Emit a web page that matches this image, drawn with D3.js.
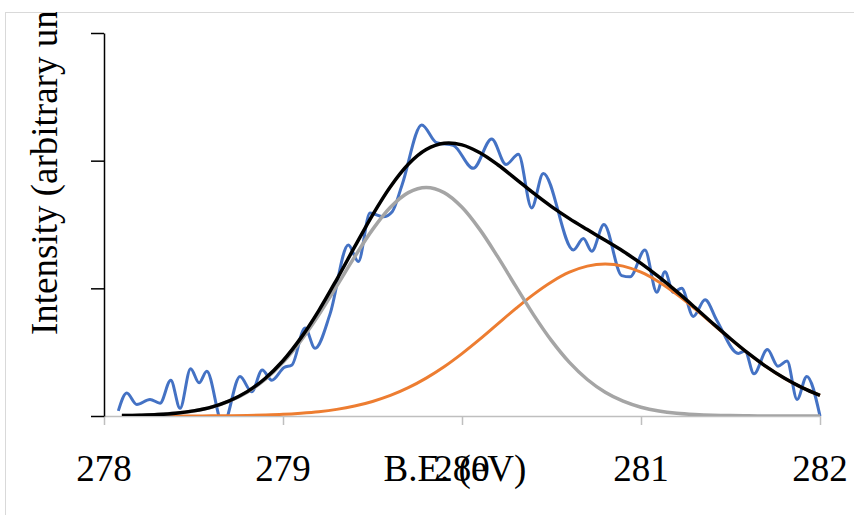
<!DOCTYPE html>
<html>
<head>
<meta charset="utf-8">
<script src="https://cdn.jsdelivr.net/npm/d3@7"></script>
<style>
  body { margin: 0; background: #fff; }
  text { font-family: "Liberation Serif", "Times New Roman", serif; }
</style>
</head>
<body>
<div id="chart"></div>
<script>
// Raw spectrum (blue)
const rawX = [278.08, 278.127, 278.183, 278.257, 278.313, 278.373, 278.425, 278.484, 278.531, 278.574,
  278.665, 278.76, 278.825, 278.884, 278.937, 279.006, 279.05, 279.123, 279.179, 279.263,
  279.365, 279.421, 279.486, 279.56, 279.61, 279.665, 279.775, 279.859, 279.951, 280.063,
  280.166, 280.246, 280.315, 280.389, 280.454, 280.622, 280.678, 280.725, 280.793, 280.892,
  280.939, 281.022, 281.088, 281.134, 281.18, 281.227, 281.292, 281.358, 281.423, 281.544,
  281.581, 281.631, 281.706, 281.765, 281.816, 281.872, 281.926, 282.0]
const rawY = [0.04, 0.18, 0.09, 0.13, 0.10, 0.28, 0.06, 0.37, 0.26, 0.35,
  -0.07, 0.31, 0.19, 0.36, 0.28, 0.38, 0.40, 0.69, 0.53, 0.80,
  1.34, 1.21, 1.59, 1.56, 1.60, 1.81, 2.28, 2.14, 2.12, 1.94,
  2.17, 1.97, 2.05, 1.63, 1.90, 1.30, 1.39, 1.29, 1.50, 1.10,
  1.09, 1.30, 0.97, 1.13, 0.97, 1.00, 0.78, 0.91, 0.75, 0.49,
  0.51, 0.33, 0.52, 0.39, 0.43, 0.13, 0.31, 0.0]

// Fitted components, sampled every 0.1 eV
const fitX = [278.1, 278.2, 278.3, 278.4, 278.5, 278.6, 278.7, 278.8, 278.9, 279.0,
  279.1, 279.2, 279.3, 279.4, 279.5, 279.6, 279.7, 279.8, 279.9, 280.0,
  280.1, 280.2, 280.3, 280.4, 280.5, 280.6, 280.7, 280.8, 280.9, 281.0,
  281.1, 281.2, 281.3, 281.4, 281.5, 281.6, 281.7, 281.8, 281.9, 282.0]
const peak1 = [0.003, 0.005, 0.011, 0.021, 0.039, 0.069, 0.116, 0.186, 0.286, 0.420,
  0.590, 0.792, 1.017, 1.246, 1.460, 1.635, 1.750, 1.790, 1.750, 1.635,
  1.460, 1.246, 1.017, 0.792, 0.590, 0.420, 0.286, 0.186, 0.116, 0.069,
  0.039, 0.021, 0.011, 0.005, 0.003, 0.001, 0.0005, 0.0002, 0.0001, 0.0]
const peak2 = [0.0, 0.0001, 0.0002, 0.0004, 0.0007, 0.0014, 0.0026, 0.0046, 0.0079, 0.013,
  0.022, 0.034, 0.052, 0.078, 0.114, 0.161, 0.222, 0.297, 0.386, 0.489,
  0.602, 0.722, 0.841, 0.953, 1.050, 1.126, 1.174, 1.190, 1.174, 1.126,
  1.050, 0.953, 0.841, 0.722, 0.602, 0.489, 0.386, 0.297, 0.222, 0.161]
const envelope = [0.003, 0.006, 0.011, 0.021, 0.040, 0.070, 0.119, 0.191, 0.294, 0.433,
  0.612, 0.826, 1.069, 1.324, 1.574, 1.796, 1.972, 2.087, 2.136, 2.124,
  2.062, 1.968, 1.858, 1.745, 1.640, 1.546, 1.460, 1.376, 1.290, 1.195,
  1.089, 0.974, 0.852, 0.727, 0.605, 0.490, 0.387, 0.297, 0.222, 0.161]

const xTicks = [278, 279, 280, 281, 282]
const yTicks = [0, 1, 2, 3]

width = 854
height = 515
margin = {left: 104, right: 34, top: 33, bottom: 99}

svg = d3.select("#chart")
        .append("svg")
        .attr("width", width)
        .attr("height", height)

// chart area border
svg.append("rect")
    .attr("x", 5.5).attr("y", 12.5)
    .attr("width", 900).attr("height", 600)
    .attr("fill", "none")
    .attr("stroke", "#d9d9d9")

defs = svg.append("defs")
defs.append("clipPath").attr("id", "area")
    .append("rect").attr("x", 0).attr("y", 12).attr("width", width).attr("height", height)
defs.append("clipPath").attr("id", "plot")
    .append("rect").attr("x", margin.left).attr("y", 0)
    .attr("width", width - margin.left).attr("height", height - margin.bottom)

x = d3.scaleLinear().domain([278, 282]).range([margin.left, width - margin.right])
y = d3.scaleLinear().domain([0, 3]).range([height - margin.bottom, margin.top])

// x axis (grey, ticks pointing down)
xAxis = svg.append("g")
    .attr("transform", `translate(0,${y(0)})`)
    .call(d3.axisBottom(x).tickValues(xTicks).tickSize(9).tickSizeOuter(0).tickFormat(""))
xAxis.select(".domain").attr("stroke", "#bfbfbf").attr("stroke-width", 1.5)
xAxis.selectAll(".tick line").attr("stroke", "#bfbfbf").attr("stroke-width", 1.5)

svg.append("g")
    .selectAll("text")
    .data(xTicks)
    .join("text")
        .attr("x", d => x(d))
        .attr("y", 481)
        .attr("text-anchor", "middle")
        .attr("font-size", 37)
        .text(d => d)

// y axis (black, no labels)
yAxis = svg.append("g")
    .attr("transform", `translate(${margin.left},0)`)
    .call(d3.axisLeft(y).tickValues(yTicks).tickSize(13).tickSizeOuter(0).tickFormat(""))
yAxis.select(".domain").attr("stroke", "#000").attr("stroke-width", 1.5)
yAxis.selectAll(".tick line").attr("stroke", "#000").attr("stroke-width", 1.5)

// lines
line = d3.line().x(d => x(d[0])).y(d => y(d[1]))
smooth = d3.line().x(d => x(d[0])).y(d => y(d[1])).curve(d3.curveMonotoneX)

plot = svg.append("g").attr("clip-path", "url(#plot)")

plot.append("path")
    .datum(d3.zip(rawX, rawY))
    .attr("fill", "none")
    .attr("stroke", "#4472c4")
    .attr("stroke-width", 3)
    .attr("d", smooth)

series = [
    {values: peak2, color: "#ed7d31", w: 3},
    {values: peak1, color: "#a5a5a5", w: 3.5},
    {values: envelope, color: "#000000", w: 3.5}
]
series.forEach(s => {
    plot.append("path")
        .datum(d3.zip(fitX, s.values))
        .attr("fill", "none")
        .attr("stroke", s.color)
        .attr("stroke-width", s.w)
        .attr("d", line.curve(d3.curveCatmullRom))
})

// axis titles
svg.append("text")
    .attr("x", 455)
    .attr("y", 481)
    .attr("text-anchor", "middle")
    .attr("font-size", 37)
    .text("B.E. (eV)")

svg.append("g").attr("clip-path", "url(#area)")
    .append("text")
    .attr("transform", "translate(57,335) rotate(-90)")
    .attr("text-anchor", "start")
    .attr("font-size", 37)
    .text("Intensity (arbitrary units)")
</script>
</body>
</html>
